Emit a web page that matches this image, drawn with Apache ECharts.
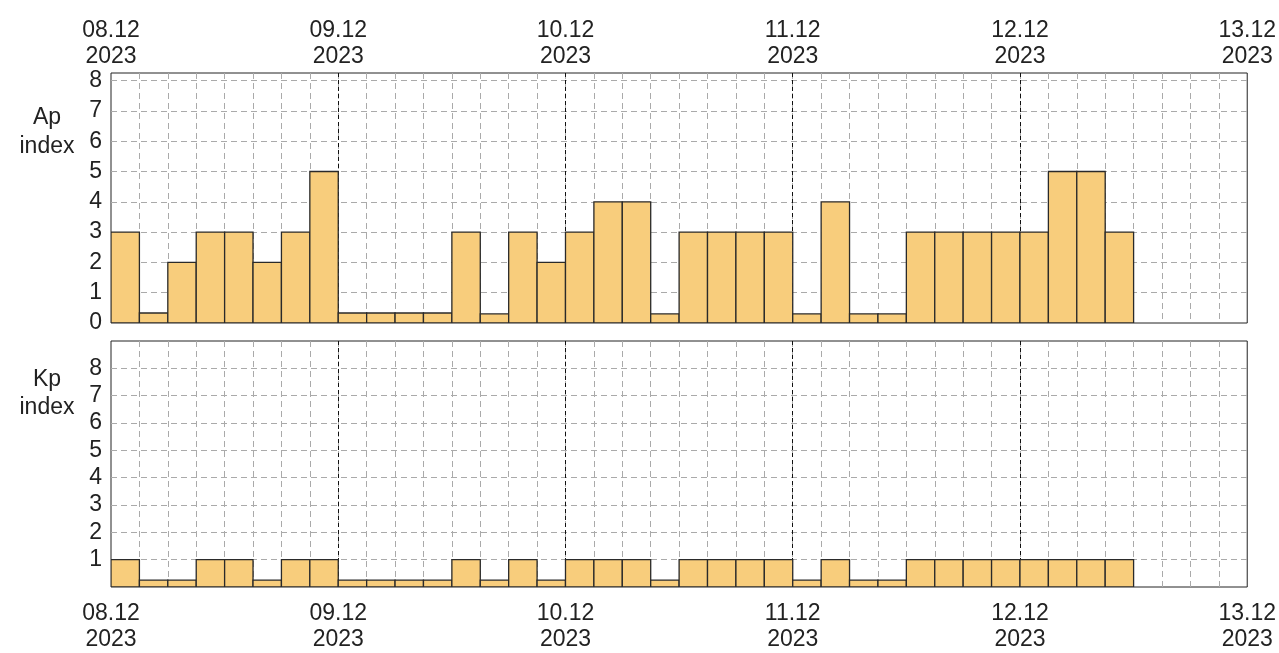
<!DOCTYPE html>
<html>
<head>
<meta charset="utf-8">
<title>Ap / Kp index</title>
<script src="https://cdn.jsdelivr.net/npm/echarts@6/dist/echarts.min.js"></script>
<style>
  html, body { margin: 0; padding: 0; background: #ffffff; }
  #chart { width: 1279px; height: 653px; }
</style>
</head>
<body>
<div id="chart"></div>
<script>
// Three-hour geomagnetic indices, 08.12.2023 00:00 UT onwards
const binHours = 3;
const dayLabels = ['08.12\n2023', '09.12\n2023', '10.12\n2023', '11.12\n2023', '12.12\n2023', '13.12\n2023'];
const apValues = [
  3, 0.33, 2, 3, 3, 2, 3, 5,
  0.33, 0.33, 0.33, 0.33, 3, 0.3, 3, 2,
  3, 4, 4, 0.3, 3, 3, 3, 3,
  0.3, 4, 0.3, 0.3, 3, 3, 3, 3,
  3, 5, 5, 3
];
const kpValues = [
  1, 0.25, 0.25, 1, 1, 0.25, 1, 1,
  0.25, 0.25, 0.25, 0.25, 1, 0.25, 1, 0.25,
  1, 1, 1, 0.25, 1, 1, 1, 1,
  0.25, 1, 0.25, 0.25, 1, 1, 1, 1,
  1, 1, 1, 1
];
const apTicks = [0, 1, 2, 3, 4, 5, 6, 7, 8];
const kpTicks = [1, 2, 3, 4, 5, 6, 7, 8];

const totalHours = (dayLabels.length - 1) * 24;
const FONT = 'Liberation Sans, Arial, sans-serif';
const FONT_SIZE = 23;
const TEXT = '#222222';
const BAR_FILL = '#f8cd7c';
const BAR_EDGE = '#2a2a2a';

function toData(values) {
  return values.map((v, i) => [i * binHours, v]);
}

function renderBin(params, api) {
  const start = api.value(0);
  const v = api.value(1);
  const topLeft = api.coord([start, v]);
  const bottomRight = api.coord([start + binHours, 0]);
  return {
    type: 'rect',
    shape: {
      x: topLeft[0],
      y: topLeft[1],
      width: bottomRight[0] - topLeft[0],
      height: bottomRight[1] - topLeft[1]
    },
    style: { fill: BAR_FILL, stroke: BAR_EDGE, lineWidth: 1.3 }
  };
}

// hourly axis: grey dashed line every 3 hours, no labels
function binAxis(gridIndex) {
  return {
    type: 'value', gridIndex, min: 0, max: totalHours, interval: binHours,
    axisLine: { show: false }, axisTick: { show: false }, axisLabel: { show: false },
    splitLine: { show: true, showMinLine: false, showMaxLine: false,
      lineStyle: { color: '#aaaaaa', type: [6, 4], width: 1 } }
  };
}

// daily axis: black dashed line at midnight, date labels
function dayAxis(gridIndex, position, margin) {
  return {
    type: 'value', gridIndex, position, min: 0, max: totalHours, interval: 24,
    axisLine: { show: false }, axisTick: { show: false },
    axisLabel: {
      show: true, margin, fontSize: FONT_SIZE, lineHeight: 26, color: TEXT, fontFamily: FONT,
      formatter: v => dayLabels[Math.round(v / 24)] || ''
    },
    splitLine: { show: true, showMinLine: false, showMaxLine: false,
      lineStyle: { color: '#111111', type: [4, 3], width: 1 } }
  };
}

function valueAxis(gridIndex, max, ticks) {
  return {
    type: 'value', gridIndex, min: 0, max, interval: 1,
    axisLine: { show: false }, axisTick: { show: false },
    axisLabel: {
      margin: 9, fontSize: FONT_SIZE, color: TEXT, fontFamily: FONT,
      formatter: v => (ticks.indexOf(v) >= 0 ? String(v) : '')
    },
    splitLine: { show: true, showMinLine: false, showMaxLine: false,
      lineStyle: { color: '#aaaaaa', type: [6, 4], width: 1 } }
  };
}

const chart = echarts.init(document.getElementById('chart'), null, { renderer: 'canvas' });
chart.setOption({
  animation: false,
  backgroundColor: '#ffffff',
  grid: [
    { left: 111, right: 27, top: 73, height: 250, show: true, borderColor: '#222222', borderWidth: 1, backgroundColor: 'transparent' },
    { left: 111, right: 27, top: 341, height: 249, show: true, borderColor: '#222222', borderWidth: 1, backgroundColor: 'transparent' }
  ],
  xAxis: [
    binAxis(0), dayAxis(0, 'top', 3),
    binAxis(1), dayAxis(1, 'bottom', 14)
  ],
  yAxis: [
    valueAxis(0, 8.25, apTicks),
    valueAxis(1, 9, kpTicks)
  ],
  graphic: [
    { type: 'text', x: 47, y: 103, z: 10,
      style: { text: 'Ap\nindex', fill: TEXT, font: FONT_SIZE + 'px ' + FONT, align: 'center', verticalAlign: 'top', lineHeight: 29 } },
    { type: 'text', x: 47, y: 366, z: 10,
      style: { text: 'Kp\nindex', fill: TEXT, font: FONT_SIZE + 'px ' + FONT, align: 'center', verticalAlign: 'top', lineHeight: 28 } }
  ],
  series: [
    { type: 'custom', name: 'Ap', xAxisIndex: 0, yAxisIndex: 0, data: toData(apValues), renderItem: renderBin, clip: true },
    { type: 'custom', name: 'Kp', xAxisIndex: 2, yAxisIndex: 1, data: toData(kpValues), renderItem: renderBin, clip: true }
  ]
});
</script>
</body>
</html>
